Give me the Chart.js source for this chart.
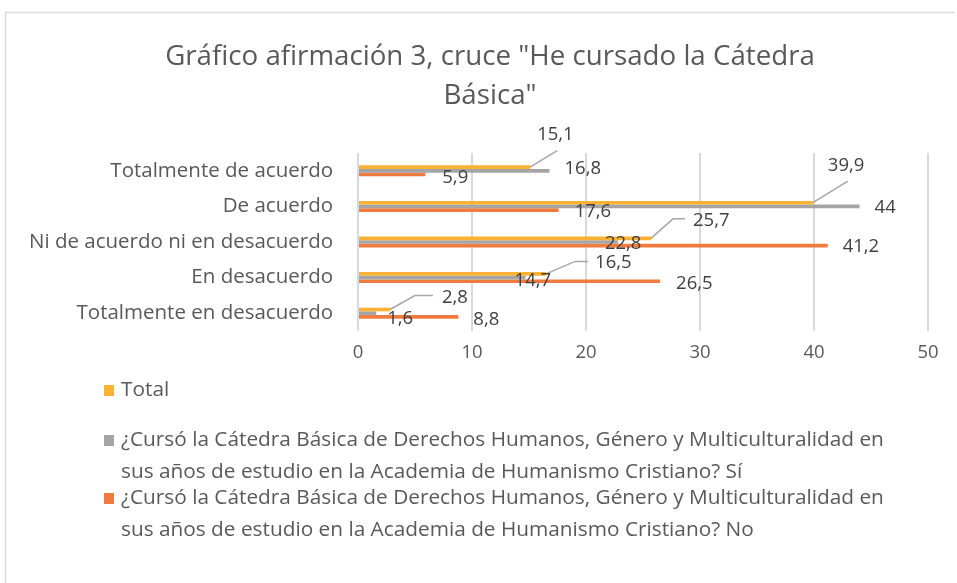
<!DOCTYPE html>
<html>
<head>
<meta charset="utf-8">
<script src="https://cdn.jsdelivr.net/npm/chart.js@4.4.1/dist/chart.umd.min.js"></script>
<style>
  html, body { margin: 0; padding: 0; background: #fff; }
</style>
</head>
<body>
<canvas id="chart" width="957" height="583"></canvas>
<script>
const categories = [
  'Totalmente de acuerdo',
  'De acuerdo',
  'Ni de acuerdo ni en desacuerdo',
  'En desacuerdo',
  'Totalmente en desacuerdo',
];
const totalValues = [15.1, 39.9, 25.7, 16.5, 2.8];
const siValues = [16.8, 44, 22.8, 14.7, 1.6];
const noValues = [5.9, 17.6, 41.2, 26.5, 8.8];
const xTicks = [0, 10, 20, 30, 40, 50];

const titleLines = ['Gráfico afirmación 3, cruce "He cursado la Cátedra', 'Básica"'];
const totalName = ['Total'];
const siName = [
  '¿Cursó la Cátedra Básica de Derechos Humanos, Género y Multiculturalidad en',
  'sus años de estudio en la Academia de Humanismo Cristiano? Sí',
];
const noName = [
  '¿Cursó la Cátedra Básica de Derechos Humanos, Género y Multiculturalidad en',
  'sus años de estudio en la Academia de Humanismo Cristiano? No',
];

const FONT = '"Open Sans", Lato, sans-serif';
const fmt = (v) => String(v).replace('.', ',');

// where Excel put each data label, relative to the end of its bar
const labelSpots = [
  // Total: callouts with leader lines
  [
    { dx: 7, dy: -32.5, lead: [[27, -16.5]] },
    { dx: 15, dy: -36.5, lead: [[35, -21.5]] },
    { dx: 42, dy: -17.5, lead: [[22, -19.5], [34, -19.5]] },
    { dx: 49, dy: -11.5, lead: [[29, -12.5], [42, -12.5]] },
    { dx: 52, dy: -12, lead: [[25, -14], [43, -14]] },
  ],
  // Sí
  [
    { dx: 15, dy: -2 },
    { dx: 15, dy: 1.5 },
    { dx: -13, dy: 1.5 },
    { dx: -11, dy: 3.5 },
    { dx: 11, dy: 5.5 },
  ],
  // No
  [
    { dx: 17, dy: 3 },
    { dx: 16, dy: 2 },
    { dx: 15, dy: 1 },
    { dx: 16, dy: 2.5 },
    { dx: 15, dy: 2.5 },
  ],
];

const legendRows = [
  { lines: totalName, y: 390 },
  { lines: siName, y: 440 },
  { lines: noName, y: 498 },
];

const decor = {
  id: 'decor',
  afterDraw(chart) {
    const ctx = chart.ctx;
    ctx.save();

    // frame
    ctx.strokeStyle = '#d9d9d9';
    ctx.lineWidth = 1.5;
    ctx.beginPath();
    ctx.moveTo(5.5, 590);
    ctx.lineTo(5.5, 12.5);
    ctx.lineTo(955, 12.5);
    ctx.stroke();

    // title
    ctx.fillStyle = '#595959';
    ctx.font = '27.7px ' + FONT;
    ctx.textAlign = 'center';
    ctx.textBaseline = 'middle';
    ctx.fillText(titleLines[0], 490, 57);
    ctx.fillText(titleLines[1], 490, 96);

    // data labels
    ctx.font = '18.5px ' + FONT;
    ctx.textAlign = 'left';
    chart.data.datasets.forEach((ds, di) => {
      const meta = chart.getDatasetMeta(di);
      meta.data.forEach((bar, i) => {
        const spot = labelSpots[di][i];
        const x0 = bar.x, y0 = bar.y;
        if (spot.lead) {
          ctx.strokeStyle = '#a6a6a6';
          ctx.lineWidth = 1.5;
          ctx.beginPath();
          ctx.moveTo(x0, y0);
          spot.lead.forEach(([lx, ly]) => ctx.lineTo(x0 + lx, y0 + ly));
          ctx.stroke();
        }
        ctx.fillStyle = '#404040';
        ctx.fillText(fmt(ds.data[i]), x0 + spot.dx, y0 + spot.dy);
      });
    });

    // legend
    ctx.font = '20.8px ' + FONT;
    legendRows.forEach((row, di) => {
      ctx.fillStyle = chart.data.datasets[di].backgroundColor;
      ctx.fillRect(104, row.y - 5, 10, 11);
      ctx.fillStyle = '#595959';
      row.lines.forEach((line, k) => {
        ctx.fillText(line, 121, row.y + k * 32);
      });
    });

    ctx.restore();
  },
};

const ctx = document.getElementById('chart').getContext('2d');
new Chart(ctx, {
  type: 'bar',
  data: {
    labels: categories,
    datasets: [
      { label: totalName.join(' '), data: totalValues, backgroundColor: '#F9B233' },
      { label: siName.join(' '), data: siValues, backgroundColor: '#A5A5A5' },
      { label: noName.join(' '), data: noValues, backgroundColor: '#F07B3F' },
    ],
  },
  options: {
    indexAxis: 'y',
    responsive: false,
    animation: false,
    datasets: { bar: { categoryPercentage: 0.31, barPercentage: 1 } },
    layout: { padding: { top: 153, right: 29, bottom: 0, left: 0 } },
    plugins: {
      legend: { display: false },
      title: { display: false },
      tooltip: { enabled: false },
    },
    scales: {
      x: {
        min: 0,
        max: 50,
        afterBuildTicks: (scale) => {
          scale.ticks = xTicks.map((v) => ({ value: v }));
        },
        grid: { color: '#d9d9d9', lineWidth: 2, drawTicks: false },
        border: { display: false },
        ticks: { color: '#595959', font: { family: FONT, size: 18.5 }, padding: 11 },
        afterFit: (scale) => { scale.height = 252; },
      },
      y: {
        grid: { display: false },
        border: { display: false },
        ticks: { color: '#595959', font: { family: FONT, size: 20.5 }, padding: 17 },
        afterFit: (scale) => { scale.width = 358; },
      },
    },
  },
  plugins: [decor],
});
</script>
</body>
</html>
